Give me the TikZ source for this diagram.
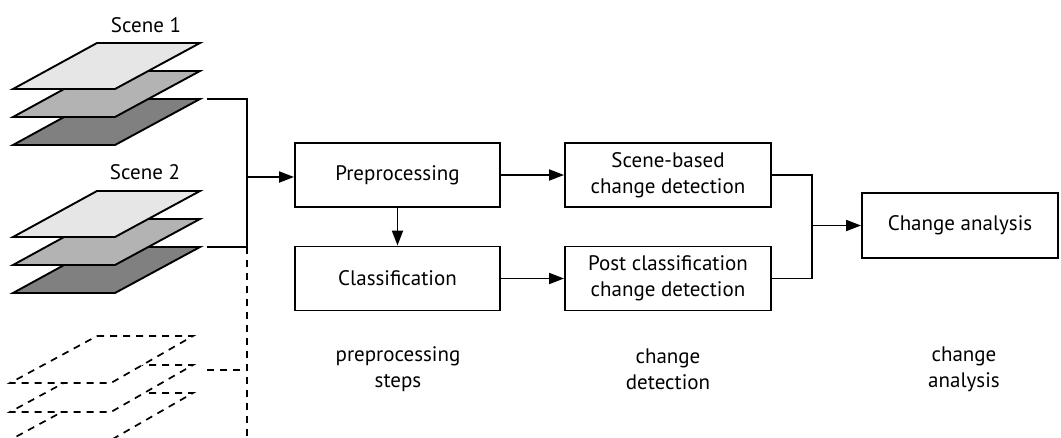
\documentclass[tikz,border=0pt]{standalone}
\usepackage{fontspec}
\setmainfont{PT Sans}
\usetikzlibrary{arrows.meta}
\definecolor{layerlight}{HTML}{E6E6E6}
\definecolor{layermid}{HTML}{B3B3B3}
\definecolor{layerdark}{HTML}{808080}
\tikzset{
  line/.style={line width=1.9pt, draw=black},
  arrow/.style={line, -{Triangle[length=15pt,width=11pt]}},
  box/.style={line, rectangle, minimum width=205pt, minimum height=64pt, inner sep=2pt,
    align=center, font=\fontsize{21}{26}\selectfont},
  caption/.style={align=center, font=\fontsize{21}{26}\selectfont},
  layer/.style={line width=1.9pt, draw=black, line join=miter},
  dlayer/.style={line width=1.7pt, draw=black, fill=white, dash pattern=on 7pt off 6pt},
}
% one solid raster layer, top edge at y=#1, fill colour #2
\newcommand{\rasterlayer}[2]{%
  \draw[layer, fill=#2] (97,#1) -- (200,#1) -- (115,#1+46) -- (13,#1+46) -- cycle;}
% one dashed (further) raster layer, top edge at y=#1
\newcommand{\futurelayer}[1]{%
  \draw[dlayer] (97,#1) -- (193,#1) -- (111,#1+47) -- (10,#1+47) -- cycle;}
\begin{document}
\begin{tikzpicture}[x=1pt, y=-1pt]
\clip (0,0) rectangle (1061,437);
\fill[white] (0,0) rectangle (1061,437);

% scene stacks
\node[caption] (sc1) at (146,25) {Scene 1};
\rasterlayer{99}{layerdark}
\rasterlayer{71}{layermid}
\rasterlayer{43}{layerlight}

\node[caption] (sc2) at (145,172) {Scene 2};
\rasterlayer{247}{layerdark}
\rasterlayer{219}{layermid}
\rasterlayer{191}{layerlight}

\futurelayer{393}
\futurelayer{365}
\futurelayer{336}

% scene outputs and collecting line
\coordinate (s1) at (207,99);
\coordinate (s2) at (207,247);
\coordinate (s3) at (207,370);
\coordinate (jb) at (247,247);
\coordinate (jin) at (247,177);
\coordinate (jend) at (247,440);
\coordinate (j3) at (243,370);

% processing boxes
\node[box] (pre) at (397.5,175) {Preprocessing};
\node[box] (cls) at (397.5,278.5) {Classification};
\node[box, minimum width=206pt] (scb) at (668,175) {Scene-based\\change detection};
\node[box, minimum width=206pt] (pcd) at (668,278.5) {Post classification\\change detection};
\node[box, minimum width=196pt, minimum height=65pt] (ca) at (960,225.5) {Change analysis};

\draw[line] (s1) -| (jb);
\draw[line] (s2) -- (jb);
\draw[line, dash pattern=on 7pt off 6pt] (jb) -- (jend);
\draw[line, dash pattern=on 7pt off 6pt] (s3) -- (j3);
\draw[arrow] (jin) -- (jin -| pre.west);

\draw[arrow] (pre.south) -- (cls.north);
\draw[arrow] (pre.east) -- (scb.west);
\draw[arrow] (cls.east) -- (pcd.west);

\coordinate (m) at (812,225.5);
\draw[line] (scb.east) -| (m) |- (pcd.east);
\draw[arrow] (m) -- (ca.west);

% stage captions
\node[caption] (cap1) at (398,369) {preprocessing\\steps};
\node[caption] (cap2) at (668,369) {change\\detection};
\node[caption] (cap3) at (964,369) {change\\analysis};
\end{tikzpicture}
\end{document}
